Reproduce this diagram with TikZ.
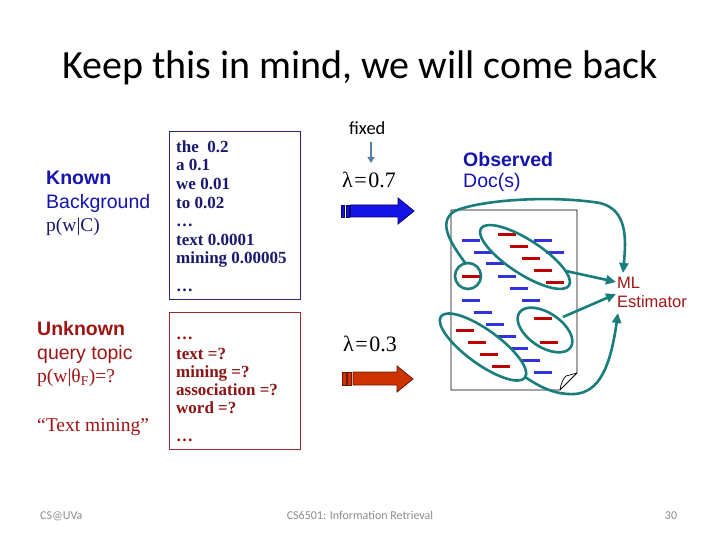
\documentclass[tikz,border=0pt]{standalone}
\usepackage{fontspec}
\setmainfont{Liberation Serif}
\newfontfamily\arialf{Liberation Sans}
\newfontfamily\calib{Carlito}
\usetikzlibrary{arrows.meta}
\definecolor{knownblue}{RGB}{20,20,175}
\definecolor{navytxt}{RGB}{25,25,110}
\definecolor{navybox}{RGB}{40,40,120}
\definecolor{unkred}{RGB}{160,20,20}
\definecolor{redtxt}{RGB}{140,20,20}
\definecolor{redbox}{RGB}{150,40,40}
\definecolor{tealc}{RGB}{25,125,125}
\definecolor{dashblue}{RGB}{50,50,220}
\definecolor{dashred}{RGB}{190,0,0}
\definecolor{arrblue}{RGB}{20,20,230}
\definecolor{arrblueo}{RGB}{0,0,110}
\definecolor{arrred}{RGB}{204,51,0}
\definecolor{arrredo}{RGB}{110,20,0}
\definecolor{footgray}{RGB}{140,140,140}
\definecolor{steel}{RGB}{90,125,165}
\begin{document}
\begin{tikzpicture}[x=1pt,y=-1pt,
  txt/.style={inner sep=0pt,anchor=base west},
  sans/.style={txt,font=\arialf\fontsize{19.5}{23}\selectfont},
  serif/.style={txt,font=\fontsize{19.5}{23}\selectfont},
  boxtxt/.style={txt,font=\bfseries\fontsize{17}{19}\selectfont},
  bdash/.style={dashblue,line width=3pt},
  rdash/.style={dashred,line width=3pt},
  tealline/.style={tealc,line width=2.6pt},
  tealarrow/.style={tealc,line width=2.6pt,-{Triangle[length=10pt,width=9pt]}},
  foot/.style={inner sep=0pt,anchor=base,font=\calib\fontsize{12}{14}\selectfont,text=footgray}]
\useasboundingbox[fill=white] (0,0) rectangle (720,540);

% title
\node[inner sep=0pt,anchor=base,font=\calib\fontsize{40}{48}\selectfont] (title) at (360,79) {Keep this in mind, we will come back};

% left labels
\node[sans,font=\arialf\bfseries\fontsize{19.5}{23}\selectfont,text=knownblue] (known) at (46,185) {Known};
\node[sans,text=knownblue] (bg) at (46,208) {Background};
\node[serif,text=navytxt] (pwc) at (46,231) {p(w|C)};
\node[sans,font=\arialf\bfseries\fontsize{19.5}{23}\selectfont,text=unkred] (unknown) at (37,335) {Unknown};
\node[sans,text=unkred] (qt) at (37,359) {query topic};
\node[serif,text=unkred] (pwt) at (37,382) {p(w|θ\textsubscript{F})=?};
\node[serif,text=unkred] (tm) at (37,431) {“Text mining”};

% box 1
\draw[navybox,line width=1pt] (169,132) rectangle (300,299);
\begin{scope}[every node/.style={boxtxt,text=navytxt}]
\node (b1a) at (176,153) {the\ \ 0.2};
\node (b1b) at (176,171) {a 0.1};
\node (b1c) at (176,190) {we 0.01};
\node (b1d) at (176,208) {to 0.02};
\node (b1e) at (176,226) {…};
\node (b1f) at (176,245) {text 0.0001};
\node (b1g) at (176,263) {mining 0.00005};
\node (b1h) at (176,291) {…};
\end{scope}

% box 2
\draw[redbox,line width=1pt] (169,312) rectangle (300,449);
\begin{scope}[every node/.style={boxtxt,text=redtxt}]
\node (b2a) at (176,339) {…};
\node (b2b) at (176,359) {text =?};
\node (b2c) at (176,377) {mining =?};
\node (b2d) at (176,395) {association =?};
\node (b2e) at (176,413) {word =?};
\node (b2f) at (176,441) {…};
\end{scope}

% fixed & lambdas
\node[inner sep=0pt,anchor=base west,font=\calib\fontsize{18.5}{22}\selectfont] (fixed) at (349,135) {fixed};
\coordinate (fixA) at (371,142);
\coordinate (fixB) at (371,163);
\draw[steel,line width=2pt,-{Triangle[length=6pt,width=7pt]}] (fixA) -- (fixB);
\node[serif,font=\fontsize{22}{26}\selectfont] (lam1) at (342,188) {λ\kern1.5pt=\kern1.5pt0.7};
\node[serif,font=\fontsize{22}{26}\selectfont] (lam2) at (343,351) {λ\kern1.5pt=\kern1.5pt0.3};

% blue block arrow
\draw[arrblueo,fill=arrblue,line width=0.8pt] (341,205) rectangle (344.5,217);
\draw[arrblueo,fill=arrblue,line width=0.8pt] (346,205) rectangle (349,217);
\draw[arrblueo,fill=arrblue,line width=0.8pt] (350.5,205) -- (398,205) -- (398,198) -- (414,211) -- (398,224) -- (398,217) -- (350.5,217) -- cycle;
% red block arrow
\draw[arrredo,fill=arrred,line width=0.8pt] (342,372) rectangle (346,385);
\draw[arrredo,fill=arrred,line width=0.8pt] (347.5,372) rectangle (351.5,385);
\draw[arrredo,fill=arrred,line width=0.8pt] (353,372) -- (397,372) -- (397,366) -- (413,379) -- (397,392) -- (397,385) -- (353,385) -- cycle;

% observed doc
\node[sans,font=\arialf\bfseries\fontsize{19.5}{23}\selectfont,text=knownblue] (obs) at (463,167) {Observed};
\node[sans,text=knownblue] (docs) at (463,188) {Doc(s)};

% document
\draw[black,line width=0.9pt] (451,210) -- (577,210) -- (577,373) -- (560,390) -- (451,390) -- cycle;
\draw[black,line width=0.7pt] (560,390) .. controls (561,383) and (563,379) .. (566,376) -- (577,373);

% dashes
\foreach \x/\y in {462/240,474/252,486/263,498/276,510/288,462/300,474/312,486/324,498/336,510/348,522/360,534/372,534/240,546/252,522/300}
  \draw[bdash] (\x,\y) -- ++(18,0);
\foreach \x/\y in {498/234,510/246,522/258,534/270,546/282,462/276,534/318,540/342,456/330,468/342,480/354,492/366}
  \draw[rdash] (\x,\y) -- ++(18,0);

% ellipses
\draw[tealline,rotate around={-33:(525,257)}] (525,257) ellipse [x radius=52.5pt, y radius=17pt];
\draw[tealline,rotate around={-36:(483,347)}] (483,347) ellipse [x radius=52pt, y radius=17pt];
\draw[tealline,rotate around={-34:(545,330)}] (545,330) ellipse [x radius=31pt, y radius=17pt];
\draw[tealline] (468,276) circle [radius=13pt];

% ML estimator
\node[sans,font=\arialf\fontsize{16.5}{20}\selectfont,text=unkred] (ml1) at (617,288) {ML};
\node[sans,font=\arialf\fontsize{16.5}{20}\selectfont,text=unkred] (ml2) at (617,307) {Estimator};

\coordinate (sA) at (466,264);
\coordinate (tA) at (623,273);
\coordinate (sB) at (566,271);
\coordinate (tB) at (616,282);
\coordinate (sC) at (563,317);
\coordinate (tC) at (616,294);
\coordinate (sD) at (525,377);
\coordinate (tD) at (618,313);
\draw[tealarrow] (sA) .. controls (452,245) and (436,222) .. (455,211) .. controls (480,200) and (550,195) .. (600,203) .. controls (628,210) and (626,240) .. (tA);
\draw[tealarrow] (sB) -- (tB);
\draw[tealarrow] (sC) -- (tC);
\draw[tealarrow] (sD) .. controls (540,387) and (555,395) .. (575,394) .. controls (598,392) and (610,370) .. (tD);

% footer
\node[foot,anchor=base west] (f1) at (40,519) {CS@UVa};
\node[foot] (f2) at (360,519) {CS6501: Information Retrieval};
\node[foot] (f3) at (671,519) {30};
\end{tikzpicture}
\end{document}
